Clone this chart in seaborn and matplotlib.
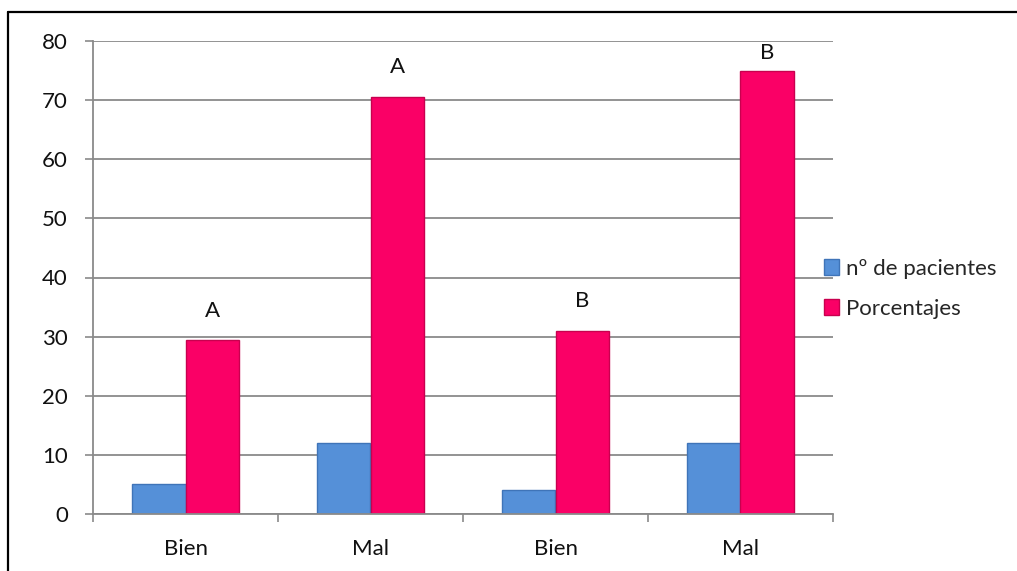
import matplotlib
matplotlib.use("Agg")
import matplotlib.pyplot as plt
from matplotlib.lines import Line2D
from matplotlib.patches import Patch
import pandas as pd
import seaborn as sns

# Data
categories = ["Bien", "Mal", "Bien", "Mal"]
groups = ["A", "A", "B", "B"]
pacientes = [5, 12, 4, 12]
porcentajes = [29.4, 70.6, 31, 75]
series_names = ["nº de pacientes", "Porcentajes"]
y_ticks = [0, 10, 20, 30, 40, 50, 60, 70, 80]

keys = [f"{c} {g}" for c, g in zip(categories, groups)]
df = pd.DataFrame({
    "grupo": keys * 2,
    "serie": [series_names[0]] * 4 + [series_names[1]] * 4,
    "valor": pacientes + porcentajes,
})

sns.set_theme(style="white")
plt.rcParams["font.family"] = ["Lato", "DejaVu Sans"]

BLUE = "#5590d8"
PINK = "#fa0066"
GRID = "#8a8a8a"
FS = 16

fig = plt.figure(figsize=(10.17, 5.71), dpi=100)
ax = fig.add_axes([93 / 1017, 1 - 514 / 571, 740 / 1017, 473 / 571])

sns.barplot(data=df, x="grupo", y="valor", hue="serie", order=keys,
            hue_order=series_names, palette=[BLUE, PINK], width=0.573,
            gap=0, dodge=True, saturation=1, legend=False, ax=ax,
            edgecolor="none", linewidth=0)

# subtle darker rims on the bars
for cont, rim in zip(ax.containers, ["#3f74b8", "#c8004f"]):
    for bar in cont:
        bar.set_edgecolor(rim)
        bar.set_linewidth(1.0)

ax.set_ylim(0, 80)
ax.set_xlim(-0.5, 3.5)
ax.set_yticks(y_ticks)
ax.set_xlabel("")
ax.set_ylabel("")
ax.set_xticks(range(len(categories)))
ax.set_xticklabels(categories, fontsize=FS, color="#111111")
ax.tick_params(axis="x", length=0, pad=18)
ax.tick_params(axis="y", length=6, width=1.2, color=GRID, pad=12,
               labelsize=FS, labelcolor="#111111", left=True)
ax.set_xticks([-0.5, 0.5, 1.5, 2.5, 3.5], minor=True)
ax.tick_params(axis="x", which="minor", length=6, width=1.2, color=GRID,
               bottom=True, direction="out")

ax.yaxis.grid(True, color=GRID, linewidth=1.3)
ax.set_axisbelow(True)
for side in ["top", "right"]:
    ax.spines[side].set_visible(False)
for side in ["left", "bottom"]:
    ax.spines[side].set_color(GRID)
    ax.spines[side].set_linewidth(1.3)

# group letters above the percentage bars
pads = [5, 5, 5, 3]
for bar, letter, pad in zip(ax.containers[1], groups, pads):
    x = bar.get_x() + bar.get_width() / 2
    ax.text(x, bar.get_height() + pad, letter, ha="center", va="center",
            fontsize=FS, color="#111111")

handles = [Patch(facecolor=BLUE, edgecolor="#3f74b8"),
           Patch(facecolor=PINK, edgecolor="#c8004f")]
fig.legend(handles, series_names, loc="center left",
           bbox_to_anchor=(815 / 1017, 1 - 289 / 571), frameon=False,
           fontsize=FS, handlelength=0.7, handleheight=0.7,
           handletextpad=0.3, labelspacing=0.9, borderaxespad=0)

# outer frame (top and left edges)
fig.add_artist(Line2D([8 / 1017, 1], [1 - 12 / 571, 1 - 12 / 571],
                      transform=fig.transFigure, color="black", linewidth=1.6))
fig.add_artist(Line2D([8 / 1017, 8 / 1017], [0, 1 - 12 / 571],
                      transform=fig.transFigure, color="black", linewidth=1.6))

fig.savefig("out.png", dpi=100, facecolor="white")
